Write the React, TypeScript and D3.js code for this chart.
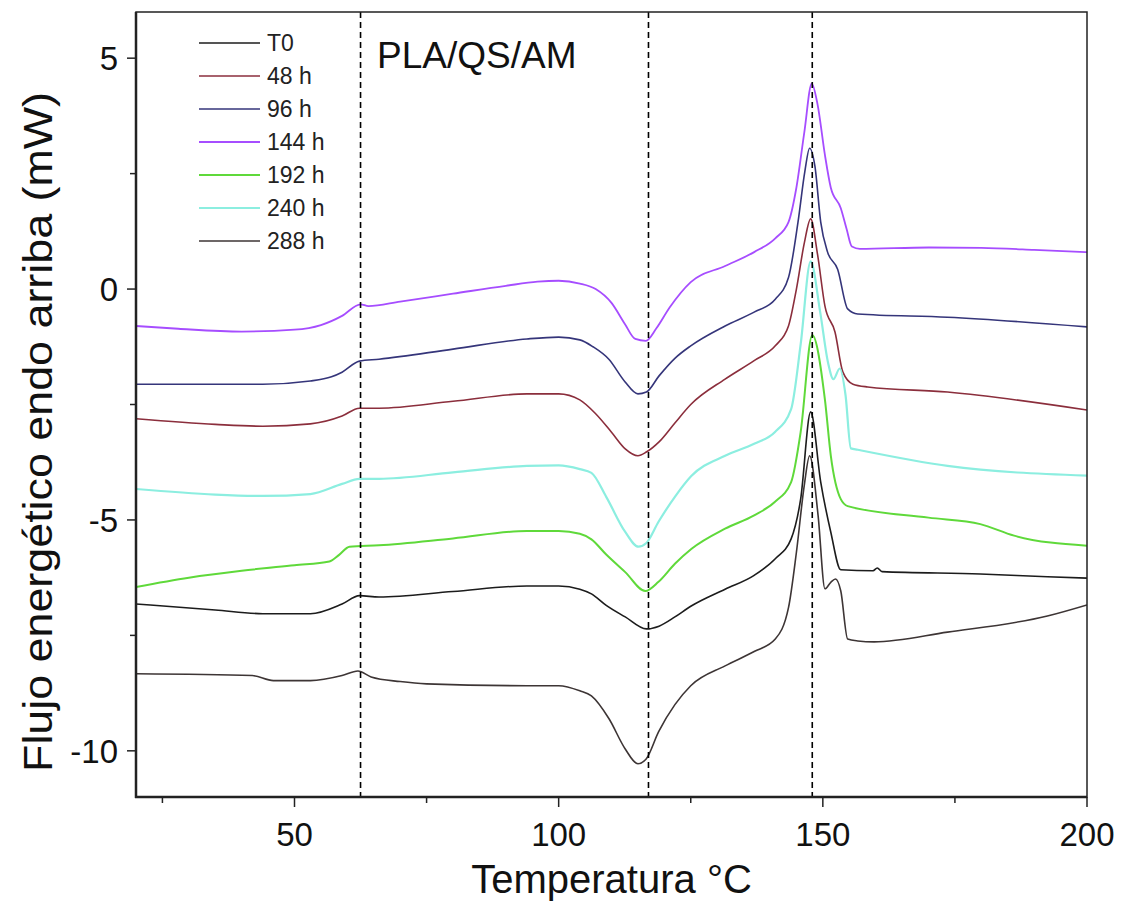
import React from 'react';
import * as d3 from 'd3';

// DSC curves, PLA/QS/AM: [temperature °C, heat flow mW]
const t0: [number, number][] = [
  [20, -6.82], [35, -6.95], [44, -7.03], [53, -7.03], [59, -6.82], [62.3, -6.64], [66, -6.67],
  [80, -6.55], [94, -6.43], [100, -6.43], [104, -6.5], [106.2, -6.6], [109, -6.85], [112.6, -7.1],
  [116.6, -7.36], [119, -7.3], [122, -7.1], [125, -6.87], [131.5, -6.5], [137, -6.2], [141, -5.84],
  [144, -5.41], [145.8, -4.55], [147.7, -2.66], [149.6, -4.18], [151.5, -5.26], [153.4, -6.08],
  [159.5, -6.1], [160.3, -6.04], [161.2, -6.12], [179.8, -6.17], [192.5, -6.23], [200, -6.26]
];
const h48: [number, number][] = [
  [20, -2.81], [35, -2.93], [44, -2.97], [53, -2.92], [59, -2.75], [62.3, -2.58], [66, -2.58],
  [80, -2.43], [94, -2.27], [100, -2.27], [104, -2.4], [107, -2.7], [110, -3.1], [112.6, -3.46],
  [115, -3.61], [116.6, -3.53], [119, -3.31], [122, -2.9], [125, -2.5], [131.5, -1.95], [137, -1.55],
  [141, -1.23], [143.5, -0.8], [145, 0.0], [146.5, 1.0], [147.7, 1.52], [149, 0.75], [150.4, -0.37],
  [152.3, -0.93], [153.8, -1.8], [155.7, -2.06], [158.5, -2.12], [173.6, -2.23], [200, -2.62]
];
const h96: [number, number][] = [
  [20, -2.06], [44, -2.06], [53, -1.99], [57, -1.9], [59, -1.8], [62.3, -1.56], [66, -1.52],
  [80, -1.3], [94, -1.08], [100, -1.04], [104, -1.1], [106.5, -1.25], [109.5, -1.52], [112.5, -2.0],
  [115, -2.27], [116.6, -2.23], [119, -1.88], [122, -1.5], [125, -1.23], [131.5, -0.8], [137, -0.5],
  [141, -0.22], [143.5, 0.25], [145.3, 1.45], [146.6, 2.55], [147.5, 3.05], [148.5, 2.66],
  [149.6, 1.45], [150.9, 0.8], [152.8, 0.43], [154.7, -0.43], [156.6, -0.54], [173.6, -0.61], [200, -0.82]
];
const h144: [number, number][] = [
  [20, -0.8], [28, -0.86], [40, -0.92], [50, -0.88], [55, -0.78], [59, -0.58], [62.5, -0.33],
  [64, -0.37], [70, -0.27], [80, -0.1], [90, 0.07], [96, 0.16], [100, 0.18], [104, 0.12], [107, 0.0],
  [110, -0.3], [112.5, -0.75], [114.5, -1.08], [116.5, -1.12], [118.5, -0.85], [121, -0.4], [125, 0.15],
  [131.5, 0.5], [137, 0.8], [141, 1.1], [143.5, 1.45], [145, 2.2], [146.5, 3.4], [147.9, 4.45],
  [149, 4.0], [150.4, 2.9], [151.5, 2.2], [153.4, 1.75], [154.5, 1.3], [155.5, 0.92], [157, 0.87],
  [170, 0.9], [180, 0.89], [190, 0.85], [200, 0.8]
];
const h192: [number, number][] = [
  [20, -6.45], [30, -6.25], [40, -6.1], [50, -5.98], [56.6, -5.9], [58.5, -5.75], [60.4, -5.58],
  [66, -5.55], [80, -5.4], [94, -5.24], [100, -5.24], [104, -5.3], [106.2, -5.42], [109, -5.75],
  [112.6, -6.13], [116.4, -6.54], [118.9, -6.34], [122, -5.95], [125.1, -5.63], [131.5, -5.19],
  [137, -4.9], [140.9, -4.61], [144, -4.18], [145.8, -3.1], [148, -1.0], [150.4, -2.4], [151.5, -3.6],
  [153.4, -4.55], [154.7, -4.7], [170, -4.95], [179.8, -5.09], [186.2, -5.34], [200, -5.56]
];
const h240: [number, number][] = [
  [20, -4.33], [35, -4.45], [44, -4.48], [53, -4.44], [59, -4.22], [62.3, -4.11], [66, -4.11],
  [80, -3.97], [94, -3.83], [100, -3.82], [104, -3.9], [106.2, -3.98], [109, -4.5], [112.6, -5.26],
  [115.1, -5.58], [116.6, -5.5], [118.9, -5.04], [122, -4.5], [125.1, -4.05], [131.5, -3.61],
  [137, -3.35], [140.9, -3.1], [144, -2.6], [145.8, -1.2], [147.7, 0.6], [149.5, -0.5], [151, -1.6],
  [152, -1.95], [153.2, -1.72], [154.3, -2.3], [155.3, -3.45], [156.6, -3.48], [173.6, -3.83], [200, -4.04]
];
const h288: [number, number][] = [
  [20, -8.33], [42, -8.37], [46, -8.48], [53, -8.48], [59, -8.37], [62, -8.27], [64.5, -8.4],
  [70, -8.5], [75, -8.55], [94, -8.59], [100, -8.59], [104, -8.7], [106.2, -8.81], [109.5, -9.3],
  [112.6, -9.96], [115, -10.28], [116.6, -10.17], [118.9, -9.59], [122, -9.0], [125, -8.59],
  [131.5, -8.16], [137, -7.85], [141, -7.58], [143.5, -6.9], [145, -5.7], [146.5, -4.24], [147.5, -3.61],
  [149.1, -4.9], [150.4, -6.49], [151.5, -6.35], [152.4, -6.28], [153.4, -6.54], [154.7, -7.58],
  [156.6, -7.62], [159.7, -7.64], [173.6, -7.43], [192.5, -7.08], [200, -6.84]
];

const seriesNames = ['T0', '48 h', '96 h', '144 h', '192 h', '240 h', '288 h'];
const seriesData = [t0, h48, h96, h144, h192, h240, h288];
const seriesColors = ['#1c1c1c', '#8b2e3c', '#35357a', '#a64dff', '#5fd93a', '#8ceee0', '#3d3535'];
const seriesWidths = [1.6, 1.6, 1.6, 1.8, 2, 2.2, 1.6];

const xTicks = [50, 100, 150, 200];
const xMinorTicks = [25, 75, 125, 175];
const yTicks = [5, 0, -5, -10];
const yMinorTicks = [2.5, -2.5, -7.5];
const markers = [62.5, 117, 148];

const W = 1123;
const H = 909;
const left = 136;
const right = 1087;
const top = 12;
const bottom = 797;
const font = '"Liberation Sans", Arial, sans-serif';

export default function App() {
  const x = d3.scaleLinear().domain([20, 200]).range([left, right]);
  const y = d3.scaleLinear().domain([-11, 6]).range([bottom, top]);
  const line = d3.line<[number, number]>()
    .x(d => x(d[0]))
    .y(d => y(d[1]))
    .curve(d3.curveMonotoneX);

  return (
    <svg width={W} height={H} style={{ position: 'absolute', left: 0, top: 0, background: '#fff' }}
      fontFamily={font}>
      <rect x={0} y={0} width={W} height={H} fill="#fff" />
      <defs>
        <clipPath id="plot">
          <rect x={left} y={top} width={right - left} height={bottom - top} />
        </clipPath>
      </defs>

      {/* curves, drawn bottom-up so the upper ones sit on top */}
      <g clipPath="url(#plot)" fill="none">
        {seriesData.map((d, i) => (
          <path key={seriesNames[i]} d={line(d) || ''} stroke={seriesColors[i]}
            strokeWidth={seriesWidths[i]} strokeLinejoin="round" />
        ))}
      </g>

      {/* dashed reference lines */}
      {markers.map(m => (
        <line key={m} x1={x(m)} x2={x(m)} y1={top} y2={bottom} stroke="#000"
          strokeWidth={1.6} strokeDasharray="6 4" />
      ))}

      {/* frame */}
      <rect x={left} y={top} width={right - left} height={bottom - top} fill="none" stroke="#222" strokeWidth={1.5} />
      <line x1={left} x2={left} y1={top} y2={bottom + 1} stroke="#222" strokeWidth={2.5} />
      <line x1={left - 1} x2={right} y1={bottom} y2={bottom} stroke="#222" strokeWidth={2.5} />

      {/* x axis */}
      {xTicks.map(t => (
        <g key={t}>
          <line x1={x(t)} x2={x(t)} y1={bottom} y2={bottom + 10} stroke="#222" strokeWidth={1.5} />
          <text x={x(t)} y={846} textAnchor="middle" fontSize={33} fill="#111">{t}</text>
        </g>
      ))}
      {xMinorTicks.map(t => (
        <line key={t} x1={x(t)} x2={x(t)} y1={bottom} y2={bottom + 6} stroke="#222" strokeWidth={1.5} />
      ))}
      <text x={(left + right) / 2} y={893} textAnchor="middle" fontSize={40} fill="#111">Temperatura °C</text>

      {/* y axis */}
      {yTicks.map(t => (
        <g key={t}>
          <line x1={left - 9} x2={left} y1={y(t)} y2={y(t)} stroke="#222" strokeWidth={1.5} />
          <text x={118} y={y(t)} dy="0.36em" textAnchor="end" fontSize={33} fill="#111">{t === 0 ? '0' : String(t)}</text>
        </g>
      ))}
      {yMinorTicks.map(t => (
        <line key={t} x1={left - 6} x2={left} y1={y(t)} y2={y(t)} stroke="#222" strokeWidth={1.5} />
      ))}
      <text transform="translate(52,432) rotate(-90)" textAnchor="middle" fontSize={40} fill="#111"
        textLength={680} lengthAdjust="spacingAndGlyphs">Flujo energético endo arriba (mW)</text>

      {/* legend */}
      {seriesNames.map((n, i) => (
        <g key={n} transform={`translate(0,${43 + i * 33})`}>
          <line x1={199} x2={260} y1={0} y2={0} stroke={seriesColors[i]} strokeWidth={seriesWidths[i]} />
          <text x={267} y={0} dy="0.36em" fontSize={23} fill="#222">{n}</text>
        </g>
      ))}

      <text x={377} y={68} fontSize={37} fill="#111">PLA/QS/AM</text>
    </svg>
  );
}
